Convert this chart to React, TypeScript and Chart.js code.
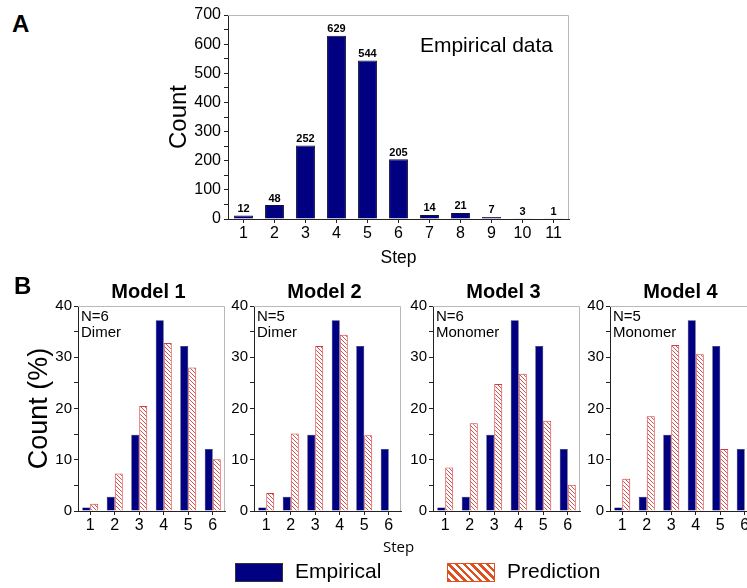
import React, { useEffect, useRef } from "react";
import { Chart, registerables } from "chart.js";

Chart.register(...registerables);

// ---------- data ----------
const stepsA = ["1", "2", "3", "4", "5", "6", "7", "8", "9", "10", "11"];
const countsA = [12, 48, 252, 629, 544, 205, 14, 21, 7, 3, 1];

const stepsB = ["1", "2", "3", "4", "5", "6"];
const empiricalPct = [0.7, 2.8, 14.9, 37.2, 32.2, 12.1];
const model1Pred = [1.4, 7.3, 20.5, 32.8, 28.0, 10.1];
const model2Pred = [3.5, 15.1, 32.2, 34.4, 14.8, 0.1];
const model3Pred = [8.5, 17.1, 24.8, 26.8, 17.6, 5.1];
const model4Pred = [6.3, 18.5, 32.4, 30.6, 12.1, 0.1];
const modelPreds = [model1Pred, model2Pred, model3Pred, model4Pred];
const modelTitles = ["Model 1", "Model 2", "Model 3", "Model 4"];
const modelNotes = [
  ["N=6", "Dimer"],
  ["N=5", "Dimer"],
  ["N=6", "Monomer"],
  ["N=5", "Monomer"],
];
const legendLabels = ["Empirical", "Prediction"];

// ---------- styles ----------
const FONT = "'Liberation Sans', Arial, sans-serif";
const NAVY = "#000080";
const HATCH_RED = "#d23c3c";
const AXIS = "#222";
const FRAME = "#b8b8b8";

// plot-area left edges of panel B
const B_LEFTS = [78, 254, 433, 610];
const B_WIDTH = 147;

function makeHatch(target: HTMLCanvasElement, color: string, size: number, lw: number) {
  const c = document.createElement("canvas");
  c.width = size;
  c.height = size;
  const g = c.getContext("2d")!;
  g.fillStyle = "#fff";
  g.fillRect(0, 0, size, size);
  g.strokeStyle = color;
  g.lineWidth = lw;
  g.beginPath();
  for (let k = -1; k <= 1; k++) {
    g.moveTo(k * size, 0);
    g.lineTo(k * size + size, size);
  }
  g.stroke();
  return target.getContext("2d")!.createPattern(c, "repeat")!;
}

const framePlugin = {
  id: "frame",
  afterDatasetsDraw(chart: any) {
    const { ctx, chartArea } = chart;
    const { left, right, top, bottom } = chartArea;
    ctx.save();
    ctx.strokeStyle = FRAME;
    ctx.lineWidth = 1;
    ctx.beginPath();
    ctx.moveTo(left, Math.round(top) + 0.5);
    ctx.lineTo(Math.round(right) - 0.5, Math.round(top) + 0.5);
    ctx.lineTo(Math.round(right) - 0.5, bottom);
    ctx.stroke();
    ctx.restore();
  },
};

export default function App() {
  const refA = useRef<HTMLCanvasElement>(null);
  const refsB = [
    useRef<HTMLCanvasElement>(null),
    useRef<HTMLCanvasElement>(null),
    useRef<HTMLCanvasElement>(null),
    useRef<HTMLCanvasElement>(null),
  ];

  useEffect(() => {
    Chart.defaults.font.family = FONT;
    Chart.defaults.color = "#000";
    const charts: Chart[] = [];

    // ---------- Panel A ----------
    const labelPlugin = {
      id: "barLabels",
      afterDatasetsDraw(chart: any) {
        const { ctx } = chart;
        const meta = chart.getDatasetMeta(0);
        ctx.save();
        ctx.font = `bold 11px ${FONT}`;
        ctx.fillStyle = "#000";
        ctx.textAlign = "center";
        ctx.textBaseline = "bottom";
        meta.data.forEach((bar: any, i: number) => {
          ctx.fillText(String(countsA[i]), bar.x, bar.y - 1);
        });
        ctx.font = `21px ${FONT}`;
        ctx.textAlign = "right";
        ctx.textBaseline = "middle";
        ctx.fillText("Empirical data", chart.chartArea.right - 16, chart.chartArea.top + 31);
        ctx.restore();
      },
    };

    charts.push(
      new Chart(refA.current!, {
        type: "bar",
        data: {
          labels: stepsA,
          datasets: [
            {
              data: countsA,
              backgroundColor: NAVY,
              borderColor: "#10103a",
              borderWidth: 1,
              barPercentage: 0.61,
              categoryPercentage: 1,
            },
          ],
        },
        options: {
          responsive: false,
          animation: false,
          layout: { padding: { top: 15, right: 21, bottom: 0, left: 0 } },
          plugins: { legend: { display: false }, tooltip: { enabled: false } },
          scales: {
            x: {
              offset: true,
              ticks: { font: { size: 16 }, padding: 1, autoSkip: false, maxRotation: 0, color: "#000" },
              grid: { offset: false, drawOnChartArea: false, tickLength: 4, color: AXIS },
              border: { color: AXIS },
              title: { display: true, text: "Step", font: { size: 17.5 }, padding: { bottom: 6 }, color: "#000" },
              afterFit: (s: any) => {
                s.height = 56;
              },
            },
            y: {
              min: 0,
              max: 700,
              ticks: {
                stepSize: 50,
                autoSkip: false,
                font: { size: 16 },
                padding: 3,
                color: "#000",
                callback: (v: any) => (Number(v) % 100 === 0 ? String(v) : ""),
              },
              grid: { drawOnChartArea: false, tickLength: 4, color: AXIS },
              border: { color: AXIS },
              title: { display: true, text: "Count", font: { size: 24 }, padding: { top: 15 }, color: "#000" },
              afterFit: (s: any) => {
                s.width = 78;
              },
            },
          },
        },
        plugins: [framePlugin, labelPlugin],
      } as any)
    );

    // ---------- Panel B ----------
    refsB.forEach((ref, i) => {
      const canvas = ref.current!;
      const L = B_LEFTS[i];
      const canvasLeft = i === 0 ? 0 : L - 42;
      const yWidth = L - canvasLeft;
      const hatch = makeHatch(canvas, HATCH_RED, 4, 0.9);

      const textPlugin = {
        id: "modelText" + i,
        afterDatasetsDraw(chart: any) {
          const { ctx, chartArea } = chart;
          ctx.save();
          ctx.fillStyle = "#000";
          ctx.font = `bold 20px ${FONT}`;
          ctx.textAlign = "center";
          ctx.textBaseline = "middle";
          ctx.fillText(modelTitles[i], (chartArea.left + chartArea.right) / 2 - 3, chartArea.top - 14);
          ctx.font = `15px ${FONT}`;
          ctx.textAlign = "left";
          ctx.fillText(modelNotes[i][0], chartArea.left + 3, chartArea.top + 11);
          ctx.fillText(modelNotes[i][1], chartArea.left + 3, chartArea.top + 27);
          ctx.restore();
        },
      };

      charts.push(
        new Chart(canvas, {
          type: "bar",
          data: {
            labels: stepsB,
            datasets: [
              {
                label: legendLabels[0],
                data: empiricalPct,
                backgroundColor: NAVY,
                borderColor: "#10103a",
                borderWidth: 0.5,
                barPercentage: 1,
                categoryPercentage: 0.653,
              },
              {
                label: legendLabels[1],
                data: modelPreds[i],
                backgroundColor: hatch,
                borderColor: HATCH_RED,
                borderWidth: 1,
                barPercentage: 1,
                categoryPercentage: 0.653,
              },
            ],
          },
          options: {
            responsive: false,
            animation: false,
            layout: { padding: { top: 36, right: 3, bottom: 0, left: 0 } },
            plugins: { legend: { display: false }, tooltip: { enabled: false } },
            scales: {
              x: {
                offset: true,
                ticks: { font: { size: 16 }, padding: 1, autoSkip: false, maxRotation: 0, color: "#000" },
                grid: { offset: false, drawOnChartArea: false, tickLength: 4, color: AXIS },
                border: { color: AXIS },
                afterFit: (s: any) => {
                  s.height = 29;
                },
              },
              y: {
                min: 0,
                max: 40,
                ticks: {
                  stepSize: 5,
                  autoSkip: false,
                  font: { size: 15 },
                  padding: 2,
                  color: "#000",
                  callback: (v: any) => (Number(v) % 10 === 0 ? String(v) : ""),
                },
                grid: { drawOnChartArea: false, tickLength: 4, color: AXIS },
                border: { color: AXIS },
                title: {
                  display: i === 0,
                  text: "Count (%)",
                  font: { size: 27 },
                  padding: { top: 23 },
                  color: "#000",
                },
                afterFit: (s: any) => {
                  s.width = yWidth;
                },
              },
            },
          },
          plugins: [framePlugin, textPlugin],
        } as any)
      );
    });

    return () => {
      charts.forEach((c) => c.destroy());
    };
  }, []);

  const bCanvases = B_LEFTS.map((L, i) => {
    const canvasLeft = i === 0 ? 0 : L - 42;
    const yWidth = L - canvasLeft;
    const w = yWidth + B_WIDTH + 3;
    return (
      <canvas
        key={i}
        ref={refsB[i]}
        width={w}
        height={270}
        style={{ position: "absolute", left: canvasLeft, top: 270, width: w, height: 270, display: "block" }}
      />
    );
  });

  const textBase: React.CSSProperties = {
    position: "absolute",
    fontFamily: FONT,
    color: "#000",
    whiteSpace: "nowrap",
  };

  return (
    <div
      style={{
        position: "fixed",
        left: 0,
        top: 0,
        width: 747,
        height: 588,
        overflow: "hidden",
        background: "#fff",
      }}
    >
      <canvas
        ref={refA}
        width={440}
        height={275}
        style={{ position: "absolute", left: 150, top: 0, width: 440, height: 275, display: "block" }}
      />
      {bCanvases}
      <div style={{ ...textBase, left: 12, top: 12, fontSize: 24, fontWeight: "bold", lineHeight: "24px" }}>A</div>
      <div style={{ ...textBase, left: 14, top: 274, fontSize: 24, fontWeight: "bold", lineHeight: "24px" }}>B</div>
      <div style={{ ...textBase, left: 383, top: 536, fontSize: 15, lineHeight: "20px", fontFamily: "'Open Sans', sans-serif" }}>
        Step
      </div>
      <div
        style={{
          position: "absolute",
          left: 235,
          top: 563,
          width: 48,
          height: 19,
          boxSizing: "border-box",
          background: NAVY,
          border: "1px solid #333",
        }}
      />
      <div style={{ ...textBase, left: 295, top: 559, fontSize: 21, lineHeight: "24px" }}>{legendLabels[0]}</div>
      <div
        style={{
          position: "absolute",
          left: 447,
          top: 563,
          width: 48,
          height: 19,
          boxSizing: "border-box",
          border: "1px solid #e0501e",
          background: "repeating-linear-gradient(45deg, #e0501e 0px, #e0501e 2.5px, #ffffff 2.5px, #ffffff 5.5px)",
        }}
      />
      <div style={{ ...textBase, left: 507, top: 559, fontSize: 21, lineHeight: "24px" }}>{legendLabels[1]}</div>
    </div>
  );
}
